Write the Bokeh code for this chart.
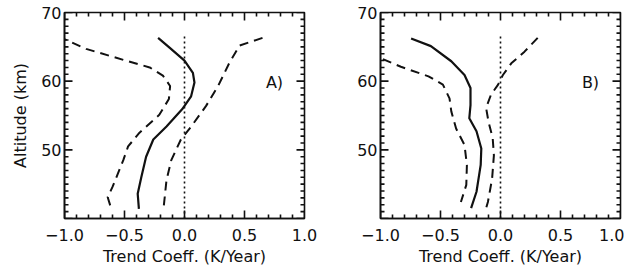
import math
from bokeh.plotting import figure
from bokeh.layouts import row
from bokeh.models import FixedTicker, Label, Range1d
from bokeh.embed import file_html
from bokeh.resources import INLINE

# ---- Panel A data (trend coefficient K/Year vs altitude km) ----
a_mean_x = [-0.22, -0.12, 0.0, 0.07, 0.083, 0.055, -0.02, -0.15, -0.26, -0.32, -0.36, -0.39, -0.38]
a_mean_y = [66.3, 64.8, 63.0, 61.2, 59.8, 57.8, 55.9, 53.4, 51.5, 49.0, 46.0, 43.6, 41.4]
a_low_x = [-1.05, -0.82, -0.49, -0.29, -0.18, -0.12, -0.13, -0.21, -0.375, -0.47, -0.51, -0.60, -0.64, -0.61]
a_low_y = [66.5, 64.7, 63.0, 62.0, 60.8, 59.3, 57.4, 55.1, 52.5, 50.5, 48.5, 44.6, 43.1, 41.4]
a_high_x = [0.65, 0.46, 0.375, 0.28, 0.18, 0.056, -0.03, -0.11, -0.15, -0.175]
a_high_y = [66.3, 65.2, 62.7, 59.3, 56.4, 53.4, 51.5, 48.5, 45.6, 41.4]

# ---- Panel B data ----
b_mean_x = [-0.745, -0.58, -0.41, -0.30, -0.25, -0.25, -0.26, -0.20, -0.16, -0.165, -0.20, -0.245]
b_mean_y = [66.2, 65.1, 62.9, 60.9, 59.0, 56.5, 54.6, 52.7, 50.2, 47.8, 43.9, 41.5]
b_low_x = [-0.98, -0.83, -0.60, -0.48, -0.425, -0.41, -0.37, -0.30, -0.28, -0.285, -0.33]
b_low_y = [63.2, 62.1, 60.7, 59.5, 57.5, 55.6, 53.1, 50.7, 47.8, 44.9, 42.4]
b_high_x = [0.31, 0.20, 0.09, 0.02, -0.02, -0.08, -0.12, -0.10, -0.065, -0.055, -0.07, -0.105, -0.12]
b_high_y = [66.3, 64.3, 62.6, 60.9, 59.5, 58.0, 56.1, 54.1, 51.7, 49.2, 45.8, 42.4, 41.5]

zero_x = [0.0, 0.0]
zero_y = [40.0, 66.8]

X_MIN, X_MAX = -1.0, 1.0
Y_MIN, Y_MAX = 40, 70
x_ticks = [-1.0, -0.5, 0.0, 0.5, 1.0]
x_tick_labels = ["\u22121.0", "\u22120.5", "0.0", "0.5", "1.0"]
x_minor_ticks = [-0.9, -0.8, -0.7, -0.6, -0.4, -0.3, -0.2, -0.1,
                 0.1, 0.2, 0.3, 0.4, 0.6, 0.7, 0.8, 0.9]
y_ticks = [40, 50, 60, 70]
y_tick_labels = ["", "50", "60", "70"]
y_minor_ticks = [v for v in range(41, 70) if v % 10 != 0]
x_title = "Trend Coeff. (K/Year)"
y_title = "Altitude (km)"
panel_labels = ["A)", "B)"]

FONT = "DejaVu Sans"
INK = "#111111"
FS = "16px"


def style_axis(ax, ticks, labels):
    ax.ticker = FixedTicker(ticks=ticks, minor_ticks=[])
    ax.major_label_overrides = {t: l for t, l in zip(ticks, labels)}
    ax.major_tick_in = 0
    ax.major_tick_out = 0
    ax.minor_tick_in = 0
    ax.minor_tick_out = 0
    ax.axis_line_color = INK
    ax.axis_line_width = 1.6
    ax.major_label_text_font = FONT
    ax.major_label_text_font_size = FS
    ax.major_label_text_color = INK
    ax.axis_label_text_font = FONT
    ax.axis_label_text_font_size = FS
    ax.axis_label_text_font_style = "normal"
    ax.axis_label_text_color = INK


def add_frame_ticks(p):
    # inward tick marks on all four frame edges, drawn as dash markers
    # centred on the frame edge (the outer half is clipped by the frame)
    for vals, size in ((x_ticks, 16), (x_minor_ticks, 8)):
        xs = list(vals) + list(vals)
        ys = [Y_MIN] * len(vals) + [Y_MAX] * len(vals)
        p.scatter(xs, ys, marker="dash", size=size, angle=math.pi / 2,
                  line_color=INK, line_width=1.6)
    for vals, size in ((y_ticks, 16), (y_minor_ticks, 8)):
        ys = list(vals) + list(vals)
        xs = [X_MIN] * len(vals) + [X_MAX] * len(vals)
        p.scatter(xs, ys, marker="dash", size=size, angle=0,
                  line_color=INK, line_width=1.6)


def make_panel(mx, my, lx, ly, hx, hy, label, left_border, right_border, show_ytitle):
    p = figure(width=left_border + 240 + right_border, height=272,
               x_range=Range1d(X_MIN, X_MAX), y_range=Range1d(Y_MIN, Y_MAX),
               output_backend="svg", toolbar_location=None,
               min_border_left=left_border, min_border_right=right_border,
               min_border_top=12, min_border_bottom=54)
    p.xgrid.grid_line_color = None
    p.ygrid.grid_line_color = None
    p.outline_line_color = INK
    p.outline_line_width = 1.6

    xb = p.xaxis[0]
    xb.axis_label = x_title
    style_axis(xb, x_ticks, x_tick_labels)
    xb.major_label_standoff = 10
    xb.axis_label_standoff = 3

    yl = p.yaxis[0]
    if show_ytitle:
        yl.axis_label = y_title
    style_axis(yl, y_ticks, y_tick_labels)
    yl.major_label_standoff = 3
    yl.axis_label_standoff = 8

    add_frame_ticks(p)

    p.line(lx, ly, line_color=INK, line_width=2, line_dash="9 6")
    p.line(hx, hy, line_color=INK, line_width=2, line_dash="9 6")
    p.line(mx, my, line_color=INK, line_width=2.2)
    p.line(zero_x, zero_y, line_color=INK, line_width=1.6, line_dash="2 3")

    p.add_layout(Label(x=0.75, y=59.8, text=label, text_font=FONT,
                       text_font_size=FS, text_color=INK,
                       text_align="center", text_baseline="middle"))
    return p


pa = make_panel(a_mean_x, a_mean_y, a_low_x, a_low_y, a_high_x, a_high_y,
                panel_labels[0], 64, 14, True)
pb = make_panel(b_mean_x, b_mean_y, b_low_x, b_low_y, b_high_x, b_high_y,
                panel_labels[1], 62, 4, False)

layout = row(pa, pb)
open("out.html", "w").write(file_html(layout, INLINE))
